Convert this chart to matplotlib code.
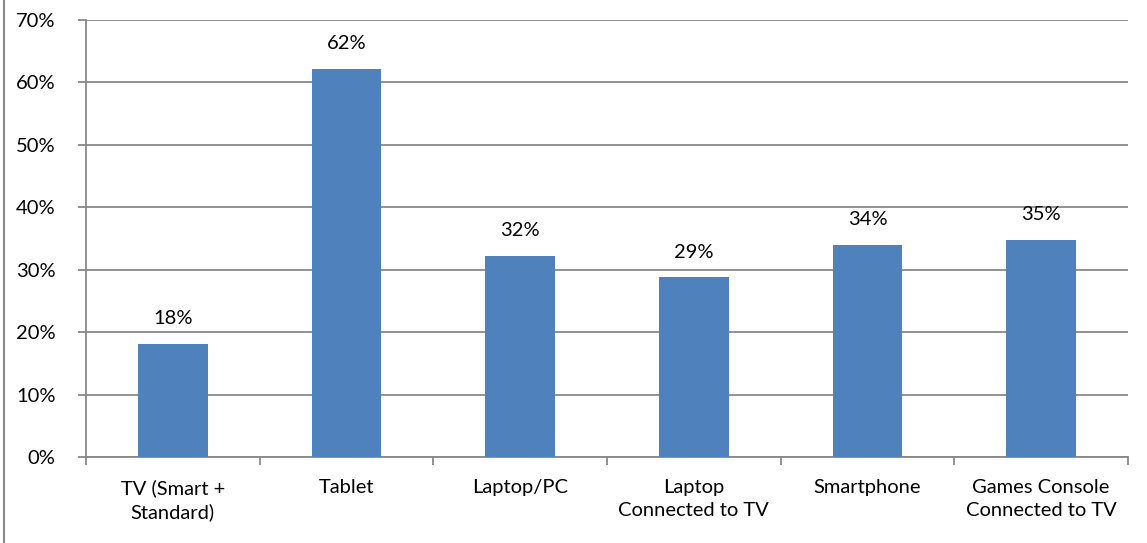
import matplotlib.pyplot as plt
from matplotlib.lines import Line2D
from matplotlib.ticker import FuncFormatter, FixedLocator

# share of respondents per device
devices = ["TV (Smart +\nStandard)", "Tablet", "Laptop/PC",
           "Laptop\nConnected to TV", "Smartphone", "Games Console\nConnected to TV"]
shares = [18.1, 62.2, 32.2, 28.8, 34.0, 34.8]

plt.rcParams['font.family'] = ['Lato', 'DejaVu Sans']

fig = plt.figure(figsize=(11.47, 5.43), dpi=100)
ax = fig.add_axes([86 / 1147, 1 - 457 / 543, (1128 - 86) / 1147, (457 - 20) / 543])

grey = '#898989'
fs = 14.5
x = list(range(len(devices)))
ax.bar(x, shares, width=0.4, color='#4F81BD', zorder=3)

for xi, v in zip(x, shares):
    ax.annotate(f'{v:.0f}%', (xi, v), xytext=(0, 12), textcoords='offset points',
                ha='center', va='bottom', fontsize=fs, color='black')

ax.set_xlim(-0.5, len(devices) - 0.5)
ax.set_ylim(0, 70)
ax.set_yticks(range(0, 71, 10))
ax.yaxis.set_major_formatter(FuncFormatter(lambda v, _: f'{v:.0f}%'))
ax.grid(axis='y', color=grey, linewidth=1.3, zorder=0)

# category labels centred, tick marks between categories
ax.set_xticks(x)
ax.set_xticklabels(devices, fontsize=fs, linespacing=1.4)
ax.tick_params(axis='x', length=0, pad=16)
ax.xaxis.set_minor_locator(FixedLocator([i - 0.5 for i in range(len(devices) + 1)]))
ax.tick_params(axis='x', which='minor', length=6, width=1.3, color=grey)
ax.tick_params(axis='y', length=6, width=1.3, color=grey, pad=16, labelsize=fs)

for s in ['top', 'right']:
    ax.spines[s].set_visible(False)
for s in ['left', 'bottom']:
    ax.spines[s].set_color(grey)
    ax.spines[s].set_linewidth(1.3)

# outer chart border on the left edge
fig.add_artist(Line2D([3.5 / 1147, 3.5 / 1147], [0, 1], color=grey, linewidth=1.5))

fig.savefig('out.png', dpi=100)
